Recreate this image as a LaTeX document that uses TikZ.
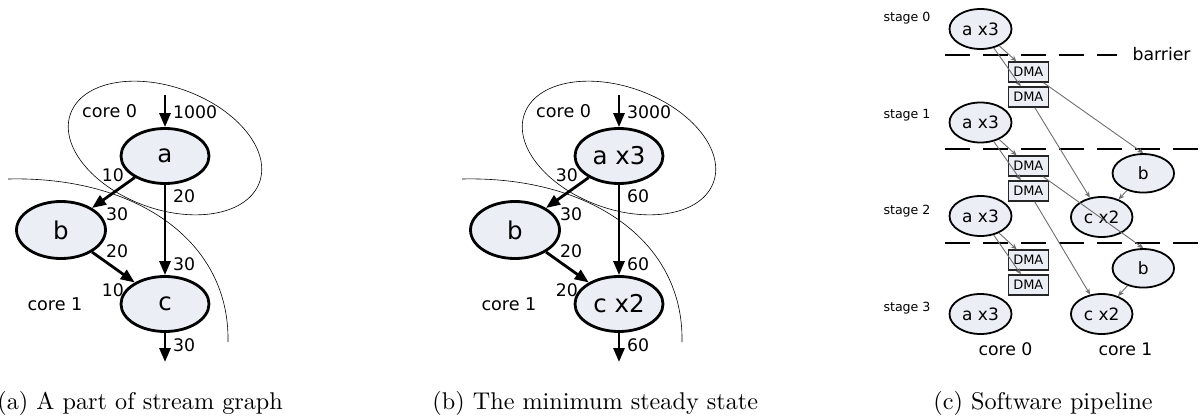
\documentclass[tikz,border=0pt]{standalone}
\usepackage{fontspec}
\newfontfamily\dv{DejaVu Sans}
\usetikzlibrary{shapes.geometric,arrows.meta}
\definecolor{nodefill}{RGB}{235,239,245}
\definecolor{arrgray}{RGB}{110,110,110}
\begin{document}
\begin{tikzpicture}[x=1pt,y=-1pt,
  bignode/.style={ellipse,draw=black,line width=2.8pt,fill=nodefill,minimum width=88pt,minimum height=55pt,inner sep=0pt,font=\dv\fontsize{24.5}{28}\selectfont},
  thickarr/.style={line width=2.8pt,-{Triangle[length=14pt,width=11pt]}},
  num/.style={inner sep=0pt,anchor=base west,font=\dv\fontsize{17.3}{20}\selectfont},
  corelbl/.style={inner sep=0pt,anchor=base west,font=\dv\fontsize{17.6}{20}\selectfont},
  region/.style={line width=0.6pt},
  captxt/.style={inner sep=0pt,anchor=base west,scale=2.42},
  smnode/.style={ellipse,draw=black,line width=1.8pt,fill=nodefill,minimum width=62pt,minimum height=40pt,inner sep=0pt,font=\dv\fontsize{17}{20}\selectfont},
  dmabox/.style={rectangle,draw=black!85,line width=1.3pt,fill=nodefill,minimum width=40pt,minimum height=20pt,inner sep=0pt,font=\dv\fontsize{13}{15}\selectfont},
  grayarr/.style={draw=arrgray,line width=0.9pt,-{Stealth[length=6pt,width=5pt]}},
  barrierline/.style={line width=1.8pt,dash pattern=on 24.5pt off 13.5pt},
  stagelbl/.style={inner sep=0pt,anchor=base west,font=\dv\fontsize{12.6}{15}\selectfont},
  bigtxt/.style={inner sep=0pt,anchor=base west,font=\dv\fontsize{17.3}{20}\selectfont},
]
\useasboundingbox (0,0) rectangle (1204,420);

% ---------------- (a) ----------------
\draw[region, rotate around={-20:(165,148)}] (165,148) ellipse [x radius=100.5pt, y radius=61pt];
\draw[region] (8,179) .. controls (135,176) and (230,240) .. (228,342);
\node[bignode] (a) at (165,156) {a};
\node[bignode, minimum width=89pt, minimum height=57pt] (b) at (61,230) {b};
\node[bignode] (c) at (165,304) {c};
\coordinate (ain) at (165,95);
\coordinate (cout) at (165,362);
\draw[thickarr] (ain) -- (a);
\draw[thickarr] (a) -- (b);
\draw[thickarr] (a) -- (c);
\draw[thickarr] (b) -- (c);
\draw[thickarr] (c) -- (cout);
\node[corelbl] (core0a) at (82,117.3) {core 0};
\node[num] (l1000) at (173,118.3) {1000};
\node[num] (lab10) at (101.7,181.7) {10};
\node[num] (lbb30) at (106,220) {30};
\node[num] (lac20) at (173,202.7) {20};
\node[num] (lca30) at (173,270.7) {30};
\node[num] (lbc20) at (106,257.3) {20};
\node[num] (lcb10) at (101.7,296) {10};
\node[num] (lout30) at (173,351.7) {30};
\node[corelbl] (core1a) at (27.3,310.7) {core 1};

% ---------------- (b) ----------------
\draw[region, rotate around={-20:(619,148)}] (619,148) ellipse [x radius=100.5pt, y radius=61pt];
\draw[region] (462,179) .. controls (589,176) and (684,240) .. (682,342);
\node[bignode] (ab) at (619,156) {a x3};
\node[bignode, minimum width=89pt, minimum height=57pt] (bb) at (515,230) {b};
\node[bignode] (cb) at (619,304) {c x2};
\coordinate (ainb) at (619,95);
\coordinate (coutb) at (619,362);
\draw[thickarr] (ainb) -- (ab);
\draw[thickarr] (ab) -- (bb);
\draw[thickarr] (ab) -- (cb);
\draw[thickarr] (bb) -- (cb);
\draw[thickarr] (cb) -- (coutb);
\node[corelbl] (core0b) at (536,117.3) {core 0};
\node[num] (l3000) at (627,118.3) {3000};
\node[num] (lab30b) at (555.7,181.7) {30};
\node[num] (lbb30b) at (560,220) {30};
\node[num] (lac60b) at (627,202.7) {60};
\node[num] (lca60b) at (627,270.7) {60};
\node[num] (lbc20b) at (560,257.3) {20};
\node[num] (lcb20b) at (555.7,296) {20};
\node[num] (lout60b) at (627,351.7) {60};
\node[corelbl] (core1b) at (481.3,310.7) {core 1};

% ---------------- (c) ----------------
\draw[barrierline] (945,55) -- (1117,55);
\draw[barrierline] (945,149) -- (1204,149);
\draw[barrierline] (945,243) -- (1204,243);
\node[bigtxt] (barrier) at (1132.3,61) {barrier};

\node[stagelbl] (st0) at (883.3,22) {stage 0};
\node[stagelbl] (st1) at (883.3,118) {stage 1};
\node[stagelbl] (st2) at (883.3,214) {stage 2};
\node[stagelbl] (st3) at (883.3,311) {stage 3};

\node[smnode] (s0a) at (980.5,29) {a x3};
\node[smnode] (s1a) at (980.5,122.5) {a x3};
\node[smnode] (s2a) at (980.5,216) {a x3};
\node[smnode] (s3a) at (980.5,314) {a x3};
\node[smnode, minimum width=61.5pt, minimum height=38.5pt] (b1) at (1143.3,173.3) {b};
\node[smnode, minimum width=61.5pt, minimum height=38.5pt] (b2) at (1143.3,268.3) {b};
\node[smnode, minimum width=61.5pt] (c1) at (1101.7,217) {c x2};
\node[smnode, minimum width=61.5pt] (c2) at (1101.7,314) {c x2};

\node[dmabox] (d1) at (1028.3,72) {DMA};
\node[dmabox] (d2) at (1028.3,97) {DMA};
\node[dmabox] (d3) at (1028.3,166) {DMA};
\node[dmabox] (d4) at (1028.3,191) {DMA};
\node[dmabox] (d5) at (1028.3,260) {DMA};
\node[dmabox] (d6) at (1028.3,285) {DMA};

\draw[grayarr] (s0a) -- (d1);
\draw[grayarr] (s0a) -- (d2);
\draw[grayarr] (d1) -- (b1.north);
\draw[grayarr] (d2) -- (c1);
\draw[grayarr] (s1a) -- (d3);
\draw[grayarr] (s1a) -- (d4);
\draw[grayarr] (d3) -- (b2.north);
\draw[grayarr] (d4) -- (c2);
\draw[grayarr] (s2a) -- (d5);
\draw[grayarr] (s2a) -- (d6);
\draw[grayarr] (b1) -- (c1);
\draw[grayarr] (b2) -- (c2);

\node[bigtxt] (core0c) at (978.3,355) {core 0};
\node[bigtxt] (core1c) at (1098.3,355) {core 1};

% ---------------- captions ----------------
\node[captxt] (capa) at (-3,409.5) {(a) A part of stream graph};
\node[captxt] (capb) at (432,409.5) {(b) The minimum steady state};
\node[captxt] (capc) at (933,409.5) {(c) Software pipeline};
\end{tikzpicture}
\end{document}
